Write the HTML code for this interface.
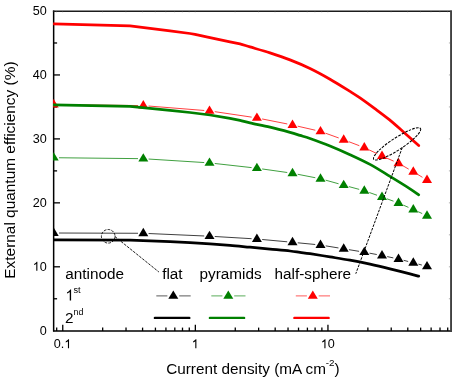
<!DOCTYPE html>
<html><head><meta charset="utf-8"><title>EQE chart</title>
<style>html,body{margin:0;padding:0;background:#fff}body{width:452px;height:379px;overflow:hidden;font-family:"Liberation Sans",sans-serif}</style></head>
<body>
<svg width="452" height="379" viewBox="0 0 452 379" style="display:block;will-change:transform;opacity:0.999;font-family:'Liberation Sans',sans-serif">
<rect width="452" height="379" fill="#fff"/>
<defs><clipPath id="c"><rect x="53.1" y="11.0" width="397.4" height="319.75"/></clipPath></defs>
<g stroke="#000" stroke-width="1.5" fill="none">
<path d="M53.65 10.6V331.45"/>
<path d="M53.1 331.0H452.09999999999997" stroke-width="1.65"/>
</g>
<g stroke="#1c1c1c" stroke-width="1.5" fill="none">
<path d="M52.9 11.15H451.9"/>
<rect x="450.1" y="10.6" width="2" height="321.05" fill="#414141" stroke="none"/>
</g>
<g stroke="#000" stroke-width="1.3">
<line x1="53.5" y1="298.77" x2="57.1" y2="298.77"/>
<line x1="53.5" y1="266.80" x2="60.0" y2="266.80"/>
<line x1="53.5" y1="234.82" x2="57.1" y2="234.82"/>
<line x1="53.5" y1="202.85" x2="60.0" y2="202.85"/>
<line x1="53.5" y1="170.88" x2="57.1" y2="170.88"/>
<line x1="53.5" y1="138.90" x2="60.0" y2="138.90"/>
<line x1="53.5" y1="106.93" x2="57.1" y2="106.93"/>
<line x1="53.5" y1="74.95" x2="60.0" y2="74.95"/>
<line x1="53.5" y1="42.98" x2="57.1" y2="42.98"/>
<line x1="56.68" y1="331.0" x2="56.68" y2="327.6"/>
<line x1="62.75" y1="331.0" x2="62.75" y2="324.7"/>
<line x1="102.67" y1="331.0" x2="102.67" y2="327.6"/>
<line x1="126.02" y1="331.0" x2="126.02" y2="327.6"/>
<line x1="142.58" y1="331.0" x2="142.58" y2="327.6"/>
<line x1="155.43" y1="331.0" x2="155.43" y2="327.6"/>
<line x1="165.93" y1="331.0" x2="165.93" y2="327.6"/>
<line x1="174.81" y1="331.0" x2="174.81" y2="327.6"/>
<line x1="182.50" y1="331.0" x2="182.50" y2="327.6"/>
<line x1="189.28" y1="331.0" x2="189.28" y2="327.6"/>
<line x1="195.35" y1="331.0" x2="195.35" y2="324.7"/>
<line x1="235.27" y1="331.0" x2="235.27" y2="327.6"/>
<line x1="258.62" y1="331.0" x2="258.62" y2="327.6"/>
<line x1="275.18" y1="331.0" x2="275.18" y2="327.6"/>
<line x1="288.03" y1="331.0" x2="288.03" y2="327.6"/>
<line x1="298.53" y1="331.0" x2="298.53" y2="327.6"/>
<line x1="307.41" y1="331.0" x2="307.41" y2="327.6"/>
<line x1="315.10" y1="331.0" x2="315.10" y2="327.6"/>
<line x1="321.88" y1="331.0" x2="321.88" y2="327.6"/>
<line x1="327.95" y1="331.0" x2="327.95" y2="324.7"/>
<line x1="367.87" y1="331.0" x2="367.87" y2="327.6"/>
<line x1="391.22" y1="331.0" x2="391.22" y2="327.6"/>
<line x1="407.78" y1="331.0" x2="407.78" y2="327.6"/>
<line x1="420.63" y1="331.0" x2="420.63" y2="327.6"/>
<line x1="431.13" y1="331.0" x2="431.13" y2="327.6"/>
<line x1="440.01" y1="331.0" x2="440.01" y2="327.6"/>
<line x1="447.70" y1="331.0" x2="447.70" y2="327.6"/>
</g>
<g clip-path="url(#c)">
<line x1="59.00" y1="233.02" x2="138.00" y2="233.28" stroke="#000000" stroke-width="0.75"/>
<line x1="148.59" y1="233.53" x2="204.21" y2="235.97" stroke="#000000" stroke-width="0.75"/>
<line x1="214.79" y1="236.51" x2="251.61" y2="238.69" stroke="#000000" stroke-width="0.75"/>
<line x1="262.18" y1="239.49" x2="287.22" y2="241.81" stroke="#000000" stroke-width="0.75"/>
<line x1="297.78" y1="242.81" x2="315.22" y2="244.49" stroke="#000000" stroke-width="0.75"/>
<line x1="325.73" y1="245.86" x2="338.47" y2="247.94" stroke="#000000" stroke-width="0.75"/>
<line x1="348.93" y1="249.66" x2="359.07" y2="251.34" stroke="#000000" stroke-width="0.75"/>
<line x1="369.51" y1="253.17" x2="376.79" y2="254.53" stroke="#000000" stroke-width="0.75"/>
<line x1="387.18" y1="256.60" x2="393.32" y2="257.90" stroke="#000000" stroke-width="0.75"/>
<line x1="403.63" y1="260.32" x2="408.17" y2="261.48" stroke="#000000" stroke-width="0.75"/>
<line x1="418.43" y1="264.15" x2="421.87" y2="265.05" stroke="#000000" stroke-width="0.75"/>
<path d="M53.70 227.50L58.70 235.90L48.70 235.90Z" fill="#000000"/>
<path d="M143.30 227.80L148.30 236.20L138.30 236.20Z" fill="#000000"/>
<path d="M209.50 230.70L214.50 239.10L204.50 239.10Z" fill="#000000"/>
<path d="M256.90 233.50L261.90 241.90L251.90 241.90Z" fill="#000000"/>
<path d="M292.50 236.80L297.50 245.20L287.50 245.20Z" fill="#000000"/>
<path d="M320.50 239.50L325.50 247.90L315.50 247.90Z" fill="#000000"/>
<path d="M343.70 243.30L348.70 251.70L338.70 251.70Z" fill="#000000"/>
<path d="M364.30 246.70L369.30 255.10L359.30 255.10Z" fill="#000000"/>
<path d="M382.00 250.00L387.00 258.40L377.00 258.40Z" fill="#000000"/>
<path d="M398.50 253.50L403.50 261.90L393.50 261.90Z" fill="#000000"/>
<path d="M413.30 257.30L418.30 265.70L408.30 265.70Z" fill="#000000"/>
<path d="M427.00 260.90L432.00 269.30L422.00 269.30Z" fill="#000000"/>
<path d="M53.50 239.80 L130.00 240.20 L150.00 240.80 L170.00 241.60 L190.00 242.60 L210.00 243.90 L230.00 245.30 C236.67 245.85 243.33 246.57 250.00 247.20 C256.67 247.83 263.33 248.47 270.00 249.10 C276.67 249.73 285.00 250.45 290.00 251.00 C295.00 251.55 296.67 251.95 300.00 252.40 C303.33 252.85 305.00 252.95 310.00 253.70 C315.00 254.45 323.33 255.82 330.00 256.90 C336.67 257.98 343.33 258.98 350.00 260.20 C356.67 261.42 363.33 262.77 370.00 264.20 C376.67 265.63 383.33 267.20 390.00 268.80 C396.67 270.40 405.22 272.57 410.00 273.80 C414.78 275.03 417.25 275.80 418.70 276.20" fill="none" stroke="#000000" stroke-width="2.75" stroke-linejoin="round" stroke-linecap="round"/>
<line x1="59.00" y1="157.76" x2="138.00" y2="158.64" stroke="#008000" stroke-width="0.75"/>
<line x1="148.59" y1="159.04" x2="204.21" y2="162.56" stroke="#008000" stroke-width="0.75"/>
<line x1="214.77" y1="163.49" x2="251.63" y2="167.61" stroke="#008000" stroke-width="0.75"/>
<line x1="262.15" y1="168.94" x2="287.25" y2="172.51" stroke="#008000" stroke-width="0.75"/>
<line x1="297.70" y1="174.27" x2="315.30" y2="177.73" stroke="#008000" stroke-width="0.75"/>
<line x1="325.61" y1="180.17" x2="338.59" y2="183.78" stroke="#008000" stroke-width="0.75"/>
<line x1="348.82" y1="186.58" x2="359.18" y2="189.37" stroke="#008000" stroke-width="0.75"/>
<line x1="369.30" y1="192.51" x2="377.00" y2="195.24" stroke="#008000" stroke-width="0.75"/>
<line x1="386.98" y1="198.81" x2="393.52" y2="201.19" stroke="#008000" stroke-width="0.75"/>
<line x1="403.35" y1="205.13" x2="408.45" y2="207.37" stroke="#008000" stroke-width="0.75"/>
<line x1="418.12" y1="211.70" x2="422.18" y2="213.55" stroke="#008000" stroke-width="0.75"/>
<path d="M53.70 152.20L58.70 160.60L48.70 160.60Z" fill="#008000"/>
<path d="M143.30 153.20L148.30 161.60L138.30 161.60Z" fill="#008000"/>
<path d="M209.50 157.40L214.50 165.80L204.50 165.80Z" fill="#008000"/>
<path d="M256.90 162.70L261.90 171.10L251.90 171.10Z" fill="#008000"/>
<path d="M292.50 167.75L297.50 176.15L287.50 176.15Z" fill="#008000"/>
<path d="M320.50 173.25L325.50 181.65L315.50 181.65Z" fill="#008000"/>
<path d="M343.70 179.70L348.70 188.10L338.70 188.10Z" fill="#008000"/>
<path d="M364.30 185.25L369.30 193.65L359.30 193.65Z" fill="#008000"/>
<path d="M382.00 191.50L387.00 199.90L377.00 199.90Z" fill="#008000"/>
<path d="M398.50 197.50L403.50 205.90L393.50 205.90Z" fill="#008000"/>
<path d="M413.30 204.00L418.30 212.40L408.30 212.40Z" fill="#008000"/>
<path d="M427.00 210.25L432.00 218.65L422.00 218.65Z" fill="#008000"/>
<line x1="59.00" y1="104.66" x2="138.00" y2="105.54" stroke="#ff0000" stroke-width="0.75"/>
<line x1="148.58" y1="106.02" x2="204.22" y2="110.48" stroke="#ff0000" stroke-width="0.75"/>
<line x1="214.74" y1="111.67" x2="251.66" y2="117.13" stroke="#ff0000" stroke-width="0.75"/>
<line x1="262.10" y1="118.94" x2="287.30" y2="123.96" stroke="#ff0000" stroke-width="0.75"/>
<line x1="297.67" y1="126.18" x2="315.33" y2="130.22" stroke="#ff0000" stroke-width="0.75"/>
<line x1="325.49" y1="133.19" x2="338.71" y2="137.96" stroke="#ff0000" stroke-width="0.75"/>
<line x1="348.65" y1="141.64" x2="359.35" y2="145.71" stroke="#ff0000" stroke-width="0.75"/>
<line x1="369.09" y1="149.87" x2="377.21" y2="153.73" stroke="#ff0000" stroke-width="0.75"/>
<line x1="386.85" y1="158.13" x2="393.65" y2="161.12" stroke="#ff0000" stroke-width="0.75"/>
<line x1="403.10" y1="165.89" x2="408.70" y2="169.11" stroke="#ff0000" stroke-width="0.75"/>
<line x1="417.83" y1="174.51" x2="422.47" y2="177.34" stroke="#ff0000" stroke-width="0.75"/>
<path d="M53.70 99.10L58.70 107.50L48.70 107.50Z" fill="#ff0000"/>
<path d="M143.30 100.10L148.30 108.50L138.30 108.50Z" fill="#ff0000"/>
<path d="M209.50 105.40L214.50 113.80L204.50 113.80Z" fill="#ff0000"/>
<path d="M256.90 112.40L261.90 120.80L251.90 120.80Z" fill="#ff0000"/>
<path d="M292.50 119.50L297.50 127.90L287.50 127.90Z" fill="#ff0000"/>
<path d="M320.50 125.90L325.50 134.30L315.50 134.30Z" fill="#ff0000"/>
<path d="M343.70 134.25L348.70 142.65L338.70 142.65Z" fill="#ff0000"/>
<path d="M364.30 142.10L369.30 150.50L359.30 150.50Z" fill="#ff0000"/>
<path d="M382.00 150.50L387.00 158.90L377.00 158.90Z" fill="#ff0000"/>
<path d="M398.50 157.75L403.50 166.15L393.50 166.15Z" fill="#ff0000"/>
<path d="M413.30 166.25L418.30 174.65L408.30 174.65Z" fill="#ff0000"/>
<path d="M427.00 174.60L432.00 183.00L422.00 183.00Z" fill="#ff0000"/>
<path d="M53.50 104.90 L130.00 106.30 L150.00 108.30 L170.00 110.30 L190.00 112.50 L210.00 115.00 L230.00 118.30 L240.00 120.30 C243.33 121.07 245.00 121.75 250.00 122.90 C255.00 124.05 263.33 125.62 270.00 127.20 C276.67 128.78 285.00 131.03 290.00 132.40 C295.00 133.77 296.67 134.38 300.00 135.40 C303.33 136.42 305.00 136.73 310.00 138.50 C315.00 140.27 323.33 143.30 330.00 146.00 C336.67 148.70 343.33 151.63 350.00 154.70 C356.67 157.77 363.33 160.78 370.00 164.40 C376.67 168.02 383.33 172.33 390.00 176.40 C396.67 180.47 405.22 185.73 410.00 188.80 C414.78 191.87 417.25 193.80 418.70 194.80" fill="none" stroke="#008000" stroke-width="2.75" stroke-linejoin="round" stroke-linecap="round"/>
<path d="M53.50 23.80 L130.00 25.90 L150.00 28.30 L170.00 30.90 L190.00 33.50 L195.00 34.30 L210.00 37.70 L230.00 41.90 L240.00 43.90 C243.33 44.73 245.00 45.40 250.00 46.90 C255.00 48.40 263.33 50.73 270.00 52.90 C276.67 55.07 283.33 57.30 290.00 59.90 C296.67 62.50 303.33 65.28 310.00 68.50 C316.67 71.72 323.33 75.38 330.00 79.20 C336.67 83.02 345.00 88.28 350.00 91.40 C355.00 94.52 355.92 95.07 360.00 97.90 C364.08 100.73 369.67 104.82 374.50 108.40 C379.33 111.98 384.17 115.47 389.00 119.40 C393.83 123.33 398.55 127.63 403.50 132.00 C408.45 136.37 416.17 143.33 418.70 145.60" fill="none" stroke="#ff0000" stroke-width="2.75" stroke-linejoin="round" stroke-linecap="round"/>
</g>
<g stroke="#555" stroke-width="1" opacity="0.45">
<line x1="450.9" y1="298.77" x2="448.9" y2="298.77"/>
<line x1="450.9" y1="266.80" x2="448.9" y2="266.80"/>
<line x1="450.9" y1="234.82" x2="448.9" y2="234.82"/>
<line x1="450.9" y1="202.85" x2="448.9" y2="202.85"/>
<line x1="450.9" y1="170.88" x2="448.9" y2="170.88"/>
<line x1="450.9" y1="138.90" x2="448.9" y2="138.90"/>
<line x1="450.9" y1="106.93" x2="448.9" y2="106.93"/>
<line x1="450.9" y1="74.95" x2="448.9" y2="74.95"/>
<line x1="450.9" y1="42.98" x2="448.9" y2="42.98"/>
<line x1="56.53" y1="11.0" x2="56.53" y2="12.3"/>
<line x1="62.60" y1="11.0" x2="62.60" y2="12.3"/>
<line x1="102.52" y1="11.0" x2="102.52" y2="12.3"/>
<line x1="125.87" y1="11.0" x2="125.87" y2="12.3"/>
<line x1="142.43" y1="11.0" x2="142.43" y2="12.3"/>
<line x1="155.28" y1="11.0" x2="155.28" y2="12.3"/>
<line x1="165.78" y1="11.0" x2="165.78" y2="12.3"/>
<line x1="174.66" y1="11.0" x2="174.66" y2="12.3"/>
<line x1="182.35" y1="11.0" x2="182.35" y2="12.3"/>
<line x1="189.13" y1="11.0" x2="189.13" y2="12.3"/>
<line x1="195.20" y1="11.0" x2="195.20" y2="12.3"/>
<line x1="235.12" y1="11.0" x2="235.12" y2="12.3"/>
<line x1="258.47" y1="11.0" x2="258.47" y2="12.3"/>
<line x1="275.03" y1="11.0" x2="275.03" y2="12.3"/>
<line x1="287.88" y1="11.0" x2="287.88" y2="12.3"/>
<line x1="298.38" y1="11.0" x2="298.38" y2="12.3"/>
<line x1="307.26" y1="11.0" x2="307.26" y2="12.3"/>
<line x1="314.95" y1="11.0" x2="314.95" y2="12.3"/>
<line x1="321.73" y1="11.0" x2="321.73" y2="12.3"/>
<line x1="327.80" y1="11.0" x2="327.80" y2="12.3"/>
<line x1="367.72" y1="11.0" x2="367.72" y2="12.3"/>
<line x1="391.07" y1="11.0" x2="391.07" y2="12.3"/>
<line x1="407.63" y1="11.0" x2="407.63" y2="12.3"/>
<line x1="420.48" y1="11.0" x2="420.48" y2="12.3"/>
<line x1="430.98" y1="11.0" x2="430.98" y2="12.3"/>
<line x1="439.86" y1="11.0" x2="439.86" y2="12.3"/>
<line x1="447.55" y1="11.0" x2="447.55" y2="12.3"/>
</g>
<g font-size="12.6px" fill="#000">
<text x="46.7" y="334.70" text-anchor="end">0</text>
<path d="M763 0H583V1147Q518 1085 412.5 1023T223 930V1104Q373 1174.5 485.5 1275T645 1470H763Z" transform="translate(32.69 270.75) scale(0.00615 -0.00615)" fill="#000"/>
<text x="39.69" y="270.75">0</text>
<text x="46.7" y="206.80" text-anchor="end">20</text>
<text x="46.7" y="142.85" text-anchor="end">30</text>
<text x="46.7" y="78.90" text-anchor="end">40</text>
<text x="46.7" y="14.95" text-anchor="end">50</text>
<text x="53.84" y="348.2">0.</text>
<path d="M763 0H583V1147Q518 1085 412.5 1023T223 930V1104Q373 1174.5 485.5 1275T645 1470H763Z" transform="translate(64.35 348.20) scale(0.00615 -0.00615)" fill="#000"/>
<path d="M763 0H583V1147Q518 1085 412.5 1023T223 930V1104Q373 1174.5 485.5 1275T645 1470H763Z" transform="translate(191.70 348.20) scale(0.00615 -0.00615)" fill="#000"/>
<path d="M763 0H583V1147Q518 1085 412.5 1023T223 930V1104Q373 1174.5 485.5 1275T645 1470H763Z" transform="translate(320.79 348.20) scale(0.00615 -0.00615)" fill="#000"/>
<text x="327.80" y="348.2">0</text>
</g>
<g font-size="15.3px" fill="#000">
<text x="166.2" y="374.2" font-size="15.3px">Current density (mA cm<tspan font-size="9.8px" dy="-8.2" dx="-0.2">-2</tspan><tspan dy="8.2">)</tspan></text>
<text transform="translate(14.9 278.7) rotate(-90)" font-size="15.42px">External quantum efficiency (%)</text>
<text x="65.3" y="278.8">antinode</text>
<text x="162.2" y="278.8">flat</text>
<text x="199.5" y="278.8">pyramids</text>
<text x="274.5" y="278.8">half-sphere</text>
<path d="M763 0H583V1147Q518 1085 412.5 1023T223 930V1104Q373 1174.5 485.5 1275T645 1470H763Z" transform="translate(65.40 300.50) scale(0.00747 -0.00747)" fill="#000"/>
<text x="73.4" y="293.0" font-size="9.2px">st</text>
<text x="64.9" y="322.6">2</text><text x="73.6" y="314.6" font-size="8.9px">nd</text>
</g>
<line x1="156.3" y1="295.9" x2="167.4" y2="295.9" stroke="#000000" stroke-width="0.65"/>
<line x1="179.20000000000002" y1="295.9" x2="190.7" y2="295.9" stroke="#000000" stroke-width="0.65"/>
<path d="M173.30 290.40L178.30 298.80L168.30 298.80Z" fill="#000000"/>
<line x1="154.9" y1="317.9" x2="189.29999999999998" y2="317.9" stroke="#000000" stroke-width="2.4" stroke-linecap="round"/>
<line x1="211.3" y1="295.9" x2="222.4" y2="295.9" stroke="#008000" stroke-width="0.65"/>
<line x1="234.20000000000002" y1="295.9" x2="245.5" y2="295.9" stroke="#008000" stroke-width="0.65"/>
<path d="M228.30 290.40L233.30 298.80L223.30 298.80Z" fill="#008000"/>
<line x1="209.9" y1="317.9" x2="244.1" y2="317.9" stroke="#008000" stroke-width="2.4" stroke-linecap="round"/>
<line x1="295.8" y1="295.9" x2="306.90000000000003" y2="295.9" stroke="#ff0000" stroke-width="0.65"/>
<line x1="318.7" y1="295.9" x2="330" y2="295.9" stroke="#ff0000" stroke-width="0.65"/>
<path d="M312.80 290.40L317.80 298.80L307.80 298.80Z" fill="#ff0000"/>
<line x1="294.40000000000003" y1="317.9" x2="328.6" y2="317.9" stroke="#ff0000" stroke-width="2.4" stroke-linecap="round"/>
<g fill="none" stroke="#000" stroke-width="1.0" stroke-dasharray="2.7 1.2">
<circle cx="108.2" cy="236.3" r="6.8" stroke-width="0.85"/>
<line x1="115.0" y1="236.6" x2="158.9" y2="272" stroke-width="0.9"/>
<ellipse cx="397.1" cy="143.9" rx="28" ry="6" transform="rotate(-33.2 397.1 143.9)" stroke-width="1.05"/>
<line x1="402.3" y1="147.5" x2="355.8" y2="273.7"/>
</g>
</svg>
</body></html>
